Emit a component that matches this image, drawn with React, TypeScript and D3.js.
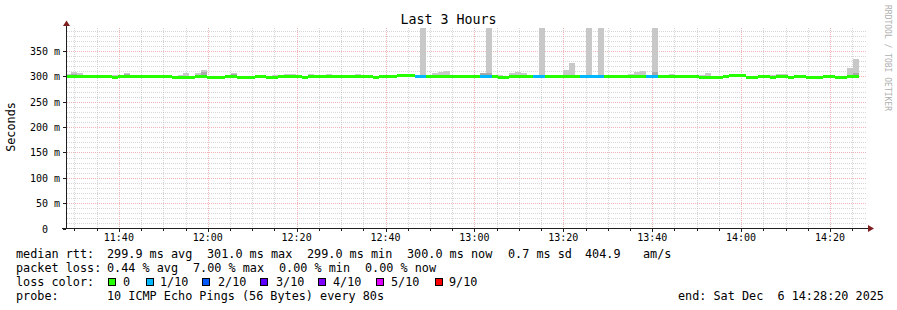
import React from 'react';
import * as d3 from 'd3';

const W = 897;
const H = 310;

// ---- data (80 s steps, 3 hours ending Sat Dec 6 14:28:20 2025) ----
const medianMs = [
  300, 300, 300, 300, 300, 300, 300, 300, 297.5, 300,
  300, 300, 300, 300, 300, 300, 300, 300, 297.5, 297.5,
  297.5, 297.5, 300, 300, 297.5, 297.5, 297.5, 300, 300, 297.5,
  297.5, 297.5, 300, 300, 297.5, 297.5, 300, 300, 300, 300,
  297.5, 300, 300, 300, 300, 300, 300, 300, 300, 300,
  300, 300, 297.5, 300, 300, 300, 301.5, 301.5, 301.5, 300,
  300, 300, 300, 300, 300, 300, 300, 300, 300, 300,
  300, 300, 300, 297.5, 297.5, 300, 300, 300, 300, 300,
  300, 300, 300, 300, 300, 300, 300, 300, 300, 300,
  300, 300, 300, 300, 300, 300, 300, 300, 300, 300,
  300, 300, 300, 300, 300, 300, 300, 297.5, 297.5, 297.5,
  297.5, 300, 301.5, 301.5, 301.5, 297.5, 297.5, 300, 300, 297.5,
  300, 300, 297.5, 300, 300, 297.5, 297.5, 297.5, 300, 300,
  297.5, 297.5, 300, 300,
];

const lossCount = [
  0, 0, 0, 0, 0, 0, 0, 0, 0, 0,
  0, 0, 0, 0, 0, 0, 0, 0, 0, 0,
  0, 0, 0, 0, 0, 0, 0, 0, 0, 0,
  0, 0, 0, 0, 0, 0, 0, 0, 0, 0,
  0, 0, 0, 0, 0, 0, 0, 0, 0, 0,
  0, 0, 0, 0, 0, 0, 0, 0, 0, 1,
  1, 0, 0, 0, 0, 0, 0, 0, 0, 0,
  1, 1, 0, 0, 0, 0, 0, 0, 0, 1,
  1, 0, 0, 0, 0, 0, 0, 1, 1, 1,
  1, 0, 0, 0, 0, 0, 0, 0, 1, 1,
  0, 0, 0, 0, 0, 0, 0, 0, 0, 0,
  0, 0, 0, 0, 0, 0, 0, 0, 0, 0,
  0, 0, 0, 0, 0, 0, 0, 0, 0, 0,
  0, 0, 0, 0,
];

// highest ping of each step (0 = no smoke above the median)
const smokeMax = [
  305, 309.5, 307, 0, 0, 0, 0, 0, 303.6, 303.6,
  307, 303.6, 303.6, 0, 0, 0, 0, 0, 0, 303.6,
  307, 0, 307, 312.8, 0, 0, 0, 303.6, 307, 0,
  0, 0, 0, 303.6, 0, 303.6, 0, 305, 305, 0,
  0, 305, 0, 303.6, 305, 0, 0, 0, 303.6, 305,
  0, 0, 0, 0, 0, 303.6, 0, 0, 0, 0,
  400, 0, 307, 309.5, 311, 0, 0, 0, 0, 0,
  307, 400, 0, 303.6, 0, 307, 309.5, 307, 0, 0,
  400, 0, 303.6, 0, 312.8, 326.6, 0, 0, 400, 0,
  400, 0, 0, 0, 0, 305, 309.5, 311, 0, 400,
  0, 0, 305, 303.6, 0, 0, 0, 303, 307, 0,
  0, 0, 0, 0, 0, 0, 0, 0, 0, 303.6,
  305, 305, 0, 0, 0, 0, 0, 0, 303.6, 303.6,
  0, 0, 317.4, 334.5,
];

// dense core of the smoke (darker gray)
const smokeCore = [
  0, 305, 0, 0, 0, 0, 0, 0, 0, 0,
  304, 0, 0, 0, 0, 0, 0, 0, 0, 0,
  0, 0, 0, 308, 0, 0, 0, 0, 304, 0,
  0, 0, 0, 0, 0, 0, 0, 0, 0, 0,
  0, 0, 0, 0, 0, 0, 0, 0, 0, 0,
  0, 0, 0, 0, 0, 0, 0, 0, 0, 0,
  0, 0, 0, 0, 0, 0, 0, 0, 0, 0,
  307, 307, 0, 0, 0, 0, 0, 0, 0, 0,
  0, 0, 0, 0, 0, 0, 0, 0, 0, 0,
  0, 0, 0, 0, 0, 0, 0, 0, 0, 309,
  0, 0, 0, 0, 0, 0, 0, 0, 0, 0,
  0, 0, 0, 0, 0, 0, 0, 0, 0, 0,
  0, 0, 0, 0, 0, 0, 0, 0, 0, 0,
  0, 0, 0, 307,
];

const timeLabels = ['11:40', '12:00', '12:20', '12:40', '13:00', '13:20', '13:40', '14:00', '14:20'];
const yTickValues = [0, 50, 100, 150, 200, 250, 300, 350];
const yTickLabels = ['0', '50 m', '100 m', '150 m', '200 m', '250 m', '300 m', '350 m'];

const lossLabels = ['0', '1/10', '2/10', '3/10', '4/10', '5/10', '9/10'];
const lossColors = ['#26ff00', '#00b8ff', '#0059ff', '#5e00ff', '#7e00ff', '#dd00ff', '#ff0000'];

const medianStats = ['299.9 ms avg', '301.0 ms max', '299.0 ms min', '300.0 ms now', '0.7 ms sd', '404.9', 'am/s'];
const lossStats = ['0.44 % avg', '7.00 % max', '0.00 % min', '0.00 % now'];

const startTime = new Date(2025, 11, 6, 11, 28, 20);
const endTime = new Date(2025, 11, 6, 14, 28, 20);
const stepSeconds = 80;
const stepOffset = -28;

const MONO = '"DejaVu Sans Mono", "Liberation Mono", monospace';
const nb = (s: string) => s.replace(/ /g, '\u00A0');

export default function App() {
  const x = d3.scaleTime().domain([startTime, endTime]).range([67, 867]);
  const y = d3.scaleLinear().domain([0, 394.7]).range([228.5, 28.5]);
  const snap = (v: number) => Math.round(v) + 0.5;

  const parseHM = (s: string) => {
    const [h, m] = s.split(':').map(Number);
    return new Date(2025, 11, 6, h, m, 0);
  };

  const minorTimes = d3.timeMinute.every(5)!.range(startTime, endTime);
  const hVals = d3.range(10, 395, 10);

  const steps = medianMs.map((m, k) => {
    const t0 = new Date(startTime.getTime() + (stepOffset + k * stepSeconds) * 1000);
    const t1 = new Date(t0.getTime() + stepSeconds * 1000);
    const x0 = Math.max(67, x(t0));
    const x1 = Math.min(867, x(t1));
    return { k, m, x0, x1, loss: lossCount[k], max: smokeMax[k], core: smokeCore[k] };
  });

  const legendX = [107, 193, 279, 365];
  const medianX = [107, 207, 307, 407, 508, 585, 643];
  const boxX = [108, 146, 202, 260, 318, 376, 435];
  const labX = [123, 160, 218, 276, 333, 391, 449];

  const minorCol = '#b4b4b4';
  const majorCol = '#ee9c9c';

  return (
    <svg width={W} height={H} style={{ position: 'absolute', left: 0, top: 0, background: '#fff' }}
      fontFamily={MONO}>
      <rect x={0} y={0} width={W} height={H} fill="#fff" />
      <defs>
        <clipPath id="plot">
          <rect x={67} y={28} width={800} height={201} />
        </clipPath>
      </defs>

      {/* grid */}
      <g shapeRendering="crispEdges">
        {hVals.map((v) => (
          <line key={'h' + v} x1={67} x2={867} y1={snap(y(v))} y2={snap(y(v))}
            stroke={v % 50 === 0 ? majorCol : minorCol} strokeOpacity={v % 50 === 0 ? 0.75 : 0.55}
            strokeDasharray="1 1" />
        ))}
        {minorTimes.map((t) => {
          const major = t.getMinutes() % 20 === 0;
          return (
            <line key={'v' + t.getTime()} x1={snap(x(t))} x2={snap(x(t))} y1={28} y2={228}
              stroke={major ? majorCol : minorCol} strokeOpacity={major ? 0.75 : 0.55}
              strokeDasharray="1 1" />
          );
        })}
      </g>

      {/* smoke */}
      <g clipPath="url(#plot)" shapeRendering="crispEdges">
        {steps.filter((s) => s.max > 0).map((s) => (
          <rect key={'s' + s.k} x={s.x0} width={s.x1 - s.x0} y={y(s.max)} height={y(s.m) - y(s.max)} fill="#c8c8c8" />
        ))}
        {steps.filter((s) => s.core > 0).map((s) => (
          <rect key={'c' + s.k} x={s.x0} width={s.x1 - s.x0} y={y(s.core)} height={y(s.m) - y(s.core)} fill="#a9a9a9" />
        ))}
        {steps.map((s) => (
          <rect key={'m' + s.k} x={s.x0} width={s.x1 - s.x0} y={y(s.m) - 1.3} height={2.6}
            fill={lossColors[s.loss]} />
        ))}
      </g>

      {/* axes */}
      <g shapeRendering="crispEdges" stroke="#1f1f1f">
        <line x1={66.5} x2={66.5} y1={24} y2={229} />
        <line x1={62} x2={869} y1={228.5} y2={228.5} />
        {yTickValues.map((v) => (
          <line key={'yt' + v} x1={63} x2={66} y1={snap(y(v))} y2={snap(y(v))} />
        ))}
        {minorTimes.map((t) => {
          const major = t.getMinutes() % 20 === 0;
          return (
            <line key={'xt' + t.getTime()} x1={snap(x(t))} x2={snap(x(t))} y1={229} y2={major ? 232 : 231} />
          );
        })}
      </g>
      <path d="M66.5,20.5 L63,26 L70,26 Z" fill="#801f1f" />
      <path d="M874,228.5 L868,225 L868,232 Z" fill="#801f1f" />

      {/* axis labels */}
      <g fontSize={10} fill="#000">
        {yTickValues.map((v, i) => (
          <text key={'yl' + v} x={v === 0 ? 48 : 60} y={snap(y(v)) + 3.5} textAnchor="end">{yTickLabels[i]}</text>
        ))}
        {timeLabels.map((l) => (
          <text key={'xl' + l} x={x(parseHM(l))} y={241} textAnchor="middle">{l}</text>
        ))}
      </g>

      <text x={448.5} y={24} textAnchor="middle" fontSize={13.3} fill="#000">Last 3 Hours</text>
      <text transform="translate(15,127) rotate(-90)" textAnchor="middle" fontSize={11.8} fill="#000">Seconds</text>
      <text transform="translate(885,5) rotate(90)" fontSize={8} fill="#b0b0b0">RRDTOOL / TOBI OETIKER</text>

      {/* legend */}
      <g fontSize={11.8} fill="#000">
        <text x={16} y={258}>median rtt:</text>
        {medianStats.map((s, i) => (
          <text key={'ms' + i} x={medianX[i]} y={258}>{nb(s)}</text>
        ))}
        <text x={16} y={272}>packet loss:</text>
        {lossStats.map((s, i) => (
          <text key={'ls' + i} x={legendX[i]} y={272}>{nb(s)}</text>
        ))}
        <text x={16} y={286}>loss color:</text>
        {lossLabels.map((l, i) => (
          <g key={'lc' + i}>
            <rect x={boxX[i] + 0.5} y={278.5} width={7} height={7} fill={lossColors[i]} stroke="#000" strokeWidth={1} shapeRendering="crispEdges" />
            <text x={labX[i]} y={286}>{l}</text>
          </g>
        ))}
        <text x={16} y={300}>probe:</text>
        <text x={107} y={300}>{nb('10 ICMP Echo Pings (56 Bytes) every 80s')}</text>
        <text x={678} y={300}>{nb('end: Sat Dec  6 14:28:20 2025')}</text>
      </g>
    </svg>
  );
}
